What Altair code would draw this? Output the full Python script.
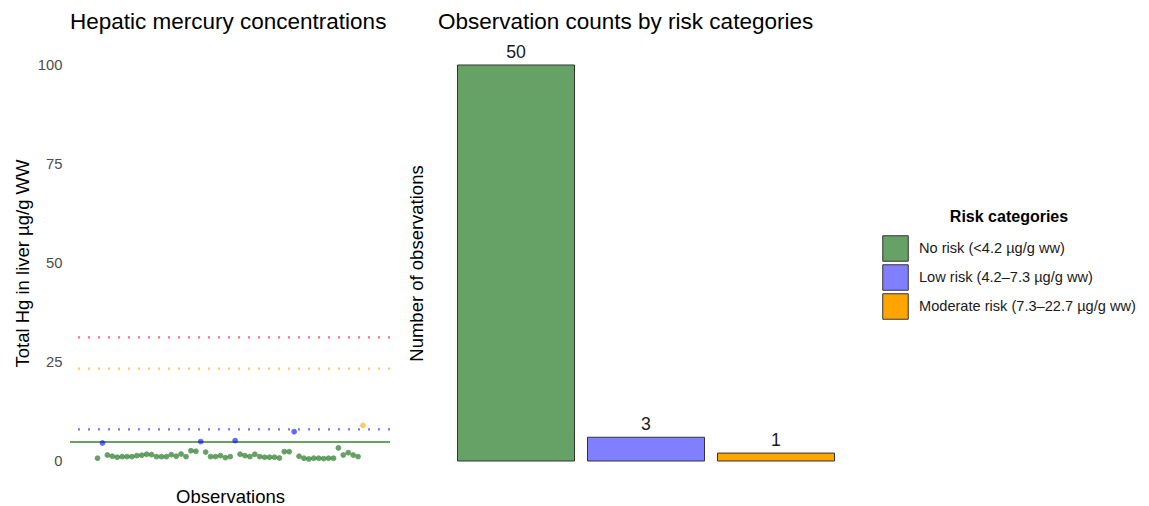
import altair as alt
import pandas as pd

# ---- data ----
categories = ["No risk (<4.2 µg/g ww)", "Low risk (4.2–7.3 µg/g ww)", "Moderate risk (7.3–22.7 µg/g ww)"]
cat_colors = ["#66A266", "#8080FF", "#FFA500"]
point_colors = ["#006400", "#0000FF", "#FFA500"]
counts = [50, 3, 1]

# hepatic Hg per observation (µg/g ww), in observation order
hg_values = [0.7, 4.55, 1.5, 1.2, 0.95, 1.1, 1.1, 1.1, 1.35, 1.45, 1.7, 1.6, 1.1, 1.1, 1.1,
             1.6, 1.2, 1.75, 1.1, 2.6, 2.45, 4.9, 2.25, 1.1, 1.1, 1.35, 0.85, 1.1, 5.15, 1.7,
             1.35, 1.1, 1.7, 1.1, 0.95, 0.95, 0.95, 0.75, 2.35, 2.35, 7.4, 1.2, 0.7, 0.5, 0.7,
             0.7, 0.6, 0.7, 0.7, 3.3, 1.5, 2.1, 1.5, 1.1, 9.0]
hg_category = ["N", "L", "N", "N", "N", "N", "N", "N", "N", "N", "N", "N", "N", "N", "N",
               "N", "N", "N", "N", "N", "N", "L", "N", "N", "N", "N", "N", "N", "L", "N",
               "N", "N", "N", "N", "N", "N", "N", "N", "N", "N", "L", "N", "N", "N", "N",
               "N", "N", "N", "N", "N", "N", "N", "N", "N", "M"]

# threshold lines (µg/g ww)
solid_threshold = [4.8]
solid_color = ["#66A266"]
dotted_thresholds = [8.0, 23.3, 31.2]
dotted_colors = ["#7474FF", "#FFCC6E", "#FF7070"]

code_map = {"N": categories[0], "L": categories[1], "M": categories[2]}

pts = pd.DataFrame({
    "obs": list(range(1, len(hg_values) + 1)),
    "hg": hg_values,
    "cat": [code_map[c] for c in hg_category],
})
solid_df = pd.DataFrame({"y": solid_threshold, "c": solid_color})
dotted_df = pd.DataFrame({"y": dotted_thresholds, "c": dotted_colors})
bars = pd.DataFrame({"cat": categories, "n": counts})

FONT = "Liberation Sans"

pt_scale = alt.Scale(domain=categories, range=point_colors)

y_left = alt.Y("hg:Q", scale=alt.Scale(domain=[0, 100], nice=False),
               axis=alt.Axis(values=[0, 25, 50, 75, 100], title="Total Hg in liver µg/g WW",
                             grid=False, domain=False, ticks=False, labelPadding=8,
                             labelColor="#4D4D4D", labelFontSize=14.8, titleFontSize=18.5,
                             titleFontWeight="normal", titleColor="black", titlePadding=5))

points = alt.Chart(pts).mark_circle(size=24, strokeWidth=0.9).encode(
    x=alt.X("obs:Q", scale=alt.Scale(domain=[-4.6, 60.5], nice=False, zero=False),
            axis=alt.Axis(title="Observations", labels=False, ticks=False, domain=False, grid=False,
                          titleFontSize=18.5, titleFontWeight="normal", titleColor="black",
                          titlePadding=26)),
    y=y_left,
    fill=alt.Fill("cat:N", scale=pt_scale, legend=None),
    stroke=alt.Stroke("cat:N", scale=pt_scale, legend=None),
    opacity=alt.Opacity("cat:N", scale=alt.Scale(domain=categories, range=[0.6, 0.6, 1.0]), legend=None),
)

solid_rule = alt.Chart(solid_df).mark_rule(strokeWidth=2).encode(
    y=alt.Y("y:Q"), color=alt.Color("c:N", scale=None))
dotted_rule = alt.Chart(dotted_df).mark_rule(strokeWidth=2.3, strokeDash=[2, 8]).encode(
    y=alt.Y("y:Q"), color=alt.Color("c:N", scale=None))

left = alt.layer(solid_rule, dotted_rule, points).properties(
    width=320, height=396,
    title=alt.TitleParams("Hepatic mercury concentrations", anchor="start", frame="group",
                          fontSize=22.5, fontWeight="normal", color="black", offset=24),
)

bar_scale = alt.Scale(domain=categories, range=cat_colors)
x_bar = alt.X("cat:N", sort=categories,
              scale=alt.Scale(paddingInner=0.1, paddingOuter=0.15),
              axis=alt.Axis(title=None, labels=False, ticks=False, domain=False, grid=False))
y_bar = alt.Y("n:Q", scale=alt.Scale(domain=[0, 50], nice=False),
              axis=alt.Axis(title="Number of observations", labels=False, ticks=False, domain=False,
                            grid=False, titleFontSize=18.5, titleFontWeight="normal",
                            titleColor="black", titlePadding=12))

bar = alt.Chart(bars).mark_bar(stroke="#333333", strokeWidth=1).encode(
    x=x_bar, y=y_bar,
    color=alt.Color("cat:N", scale=bar_scale,
                    legend=alt.Legend(title="Risk categories", orient="none", legendX=444, legendY=144,
                                      symbolType="square", symbolSize=650, symbolStrokeColor="#333333",
                                      symbolStrokeWidth=1, symbolOpacity=1, labelOffset=10,
                                      rowPadding=-3, titleFontSize=16, titleFontWeight="bold",
                                      titleColor="black", labelFontSize=14.6, labelColor="#1A1A1A",
                                      titleAnchor="middle", titleAlign="center", titlePadding=10,
                                      labelLimit=400)),
)
labels = alt.Chart(bars).mark_text(baseline="alphabetic", dy=-7, fontSize=17.7, color="#1A1A1A").encode(
    x=x_bar, y=y_bar, text="n:Q")

right = alt.layer(bar, labels).properties(
    width=416, height=396,
    title=alt.TitleParams("Observation counts by risk categories", anchor="start", frame="group",
                          fontSize=22.5, fontWeight="normal", color="black", offset=11),
)

chart = alt.hconcat(left, right, spacing=48, bounds="flush").resolve_scale(
    color="independent", fill="independent", stroke="independent", opacity="independent"
).properties(
    padding={"left": 5, "top": 2, "right": 0, "bottom": 0}
).configure(font=FONT).configure_view(stroke=None)

chart.save("out.html", embed_options={"renderer": "svg", "actions": False})
